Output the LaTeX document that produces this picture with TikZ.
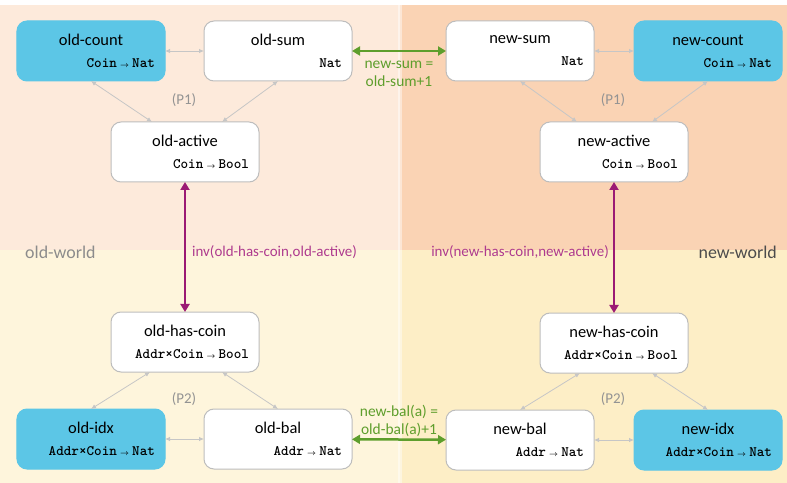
\documentclass[tikz,border=0pt]{standalone}
\usepackage{fontspec}
\usepackage{amsmath}
\setmainfont{Carlito}
\newfontfamily\typefam{lmmonolt10-bold.otf}
\usetikzlibrary{arrows.meta}

\definecolor{OldTop}{HTML}{FDEADB}
\definecolor{NewTop}{HTML}{FAD3B4}
\definecolor{OldBottom}{HTML}{FEF5DC}
\definecolor{NewBottom}{HTML}{FDEEC6}
\definecolor{NodeLine}{HTML}{BDBDBD}
\definecolor{NodeBlue}{HTML}{5CC6E6}
\definecolor{ArrowGray}{HTML}{C6C6C6}
\definecolor{RelGreen}{HTML}{5E9E2C}
\definecolor{InvPurple}{HTML}{9B1A74}
\definecolor{InvText}{HTML}{AE3A8E}

\newcommand{\TitleFont}{\fontsize{16.5}{18}\selectfont}
\newcommand{\TypeFont}{\typefam\fontsize{14.5}{16}\selectfont}
\newcommand{\TypeArrow}{\makebox[0.6em]{\resizebox{0.62em}{!}{$\boldsymbol{\rightarrow}$}}}
\newcommand{\StateText}[2]{{\centering\TitleFont #1\par}\vspace{6bp}{\raggedleft\TypeFont #2\par}}

\begin{document}
\begin{tikzpicture}[x=1bp,y=-1bp]
  \tikzset{VertexStyle/.style = {
    shape           = rectangle,
    rounded corners = 10bp,
    draw            = NodeLine,
    fill            = white,
    line width      = 1bp,
    text            = black,
    inner sep       = 0pt,
    outer sep       = 0pt,
    text width      = 128bp,
    minimum width   = 148bp,
    minimum height  = 60bp
    }
  }
  \tikzset{BlueVertexStyle/.style = {
    VertexStyle,
    draw            = NodeBlue,
    fill            = NodeBlue
    }
  }
  \tikzset{GrayEdgeStyle/.style = {
    draw            = ArrowGray,
    line width      = 0.8bp,
    {Latex[length=5bp,width=4.5bp]}-{Latex[length=5bp,width=4.5bp]}
    }
  }
  \tikzset{GreenEdgeStyle/.style = {
    draw            = RelGreen,
    line width      = 2.5bp,
    {Triangle[length=8bp,width=9bp]}-{Triangle[length=8bp,width=9bp]}
    }
  }
  \tikzset{PurpleEdgeStyle/.style = {
    draw            = InvPurple,
    line width      = 2.8bp,
    {Triangle[length=8bp,width=9bp]}-{Triangle[length=8bp,width=9bp]}
    }
  }
  \tikzset{PropStyle/.style = {
    text            = gray!85,
    font            = \fontsize{15}{18}\selectfont
    }
  }
  \tikzset{RelLabelStyle/.style = {
    text            = RelGreen,
    align           = center,
    inner sep       = 0pt,
    font            = \fontsize{15.5}{18}\selectfont
    }
  }
  \tikzset{InvLabelStyle/.style = {
    text            = InvText,
    inner sep       = 0pt,
    font            = \fontsize{15}{18}\selectfont
    }
  }

  % the four quarters
  \useasboundingbox (0,0) rectangle (787,483);
  \fill[OldTop]    (0,5)     rectangle (400,250);
  \fill[NewTop]    (400,5)   rectangle (787,250);
  \fill[OldBottom] (0,250)   rectangle (400,483);
  \fill[NewBottom] (400,250) rectangle (787,483);
  \fill[white, opacity=0.45] (398,5) rectangle (402,483);
  \node[text=gray!90, font=\fontsize{18}{20}\selectfont, anchor=west, inner sep=0pt] (oldworld) at (25, 252) {old-world};
  \node[text=black!70, font=\fontsize{18}{20}\selectfont, anchor=east, inner sep=0pt] (newworld) at (777, 252) {new-world};

	\node[BlueVertexStyle](oldcount) at (91, 51) {\StateText{old-count}{Coin \TypeArrow{} Nat}};
	\node[VertexStyle](oldsum) at (278, 51) {\StateText{old-sum}{Nat}};
	\node[VertexStyle](newsum) at (520, 51) {\StateText{new-sum}{Nat}};
	\node[BlueVertexStyle](newcount) at (708, 51) {\StateText{new-count}{Coin \TypeArrow{} Nat}};
	\node[VertexStyle](oldactive) at (185, 152) {\StateText{old-active}{Coin \TypeArrow{} Bool}};
	\node[VertexStyle](newactive) at (614, 152) {\StateText{new-active}{Coin \TypeArrow{} Bool}};
	\node[VertexStyle](oldhascoin) at (185, 342) {\StateText{old-has-coin}{Addr×Coin \TypeArrow{} Bool}};
	\node[VertexStyle](newhascoin) at (614, 343) {\StateText{new-has-coin}{Addr×Coin \TypeArrow{} Bool}};
	\node[BlueVertexStyle](oldidx) at (91, 439) {\StateText{old-idx}{Addr×Coin \TypeArrow{} Nat}};
	\node[VertexStyle](oldbal) at (278, 439) {\StateText{old-bal}{Addr \TypeArrow{} Nat}};
	\node[VertexStyle](newbal) at (520, 440) {\StateText{new-bal}{Addr \TypeArrow{} Nat}};
	\node[BlueVertexStyle](newidx) at (708, 440) {\StateText{new-idx}{Addr×Coin \TypeArrow{} Nat}};

	\draw[GrayEdgeStyle](oldcount) -- (oldsum);
	\draw[GrayEdgeStyle](newsum) -- (newcount);
	\draw[GrayEdgeStyle](oldidx) -- (oldbal);
	\draw[GrayEdgeStyle](newbal) -- (newidx);
	\draw[GrayEdgeStyle](oldcount.south) -- ([xshift=-33bp]oldactive.north);
	\draw[GrayEdgeStyle](oldsum.south) -- ([xshift=37bp]oldactive.north);
	\draw[GrayEdgeStyle](newsum.south) -- ([xshift=-37bp]newactive.north);
	\draw[GrayEdgeStyle](newcount.south) -- ([xshift=38bp]newactive.north);
	\draw[GrayEdgeStyle]([xshift=-35bp]oldhascoin.south) -- (oldidx.north);
	\draw[GrayEdgeStyle]([xshift=37bp]oldhascoin.south) -- (oldbal.north);
	\draw[GrayEdgeStyle]([xshift=-34bp]newhascoin.south) -- (newbal.north);
	\draw[GrayEdgeStyle]([xshift=38bp]newhascoin.south) -- (newidx.north);

	\draw[GreenEdgeStyle](oldsum) -- (newsum);
	\draw[GreenEdgeStyle](oldbal) -- (newbal);
	\draw[PurpleEdgeStyle](oldactive) -- (oldhascoin);
	\draw[PurpleEdgeStyle](newactive) -- (newhascoin);

  \node[PropStyle] (p1old) at (184, 100) {(P1)};
  \node[PropStyle] (p1new) at (613, 100) {(P1)};
  \node[PropStyle] (p2old) at (184, 399) {(P2)};
  \node[PropStyle] (p2new) at (613, 399) {(P2)};
  \node[RelLabelStyle] (sumrel) at (399, 74) {new-sum =\\old-sum+1};
  \node[RelLabelStyle] (balrel) at (399, 421) {new-bal(a) =\\old-bal(a)+1};
  \node[InvLabelStyle, anchor=west] (invold) at (192, 252) {inv(old-has-coin,old-active)};
  \node[InvLabelStyle, anchor=east] (invnew) at (609, 252) {inv(new-has-coin,new-active)};

\end{tikzpicture}
\end{document}
